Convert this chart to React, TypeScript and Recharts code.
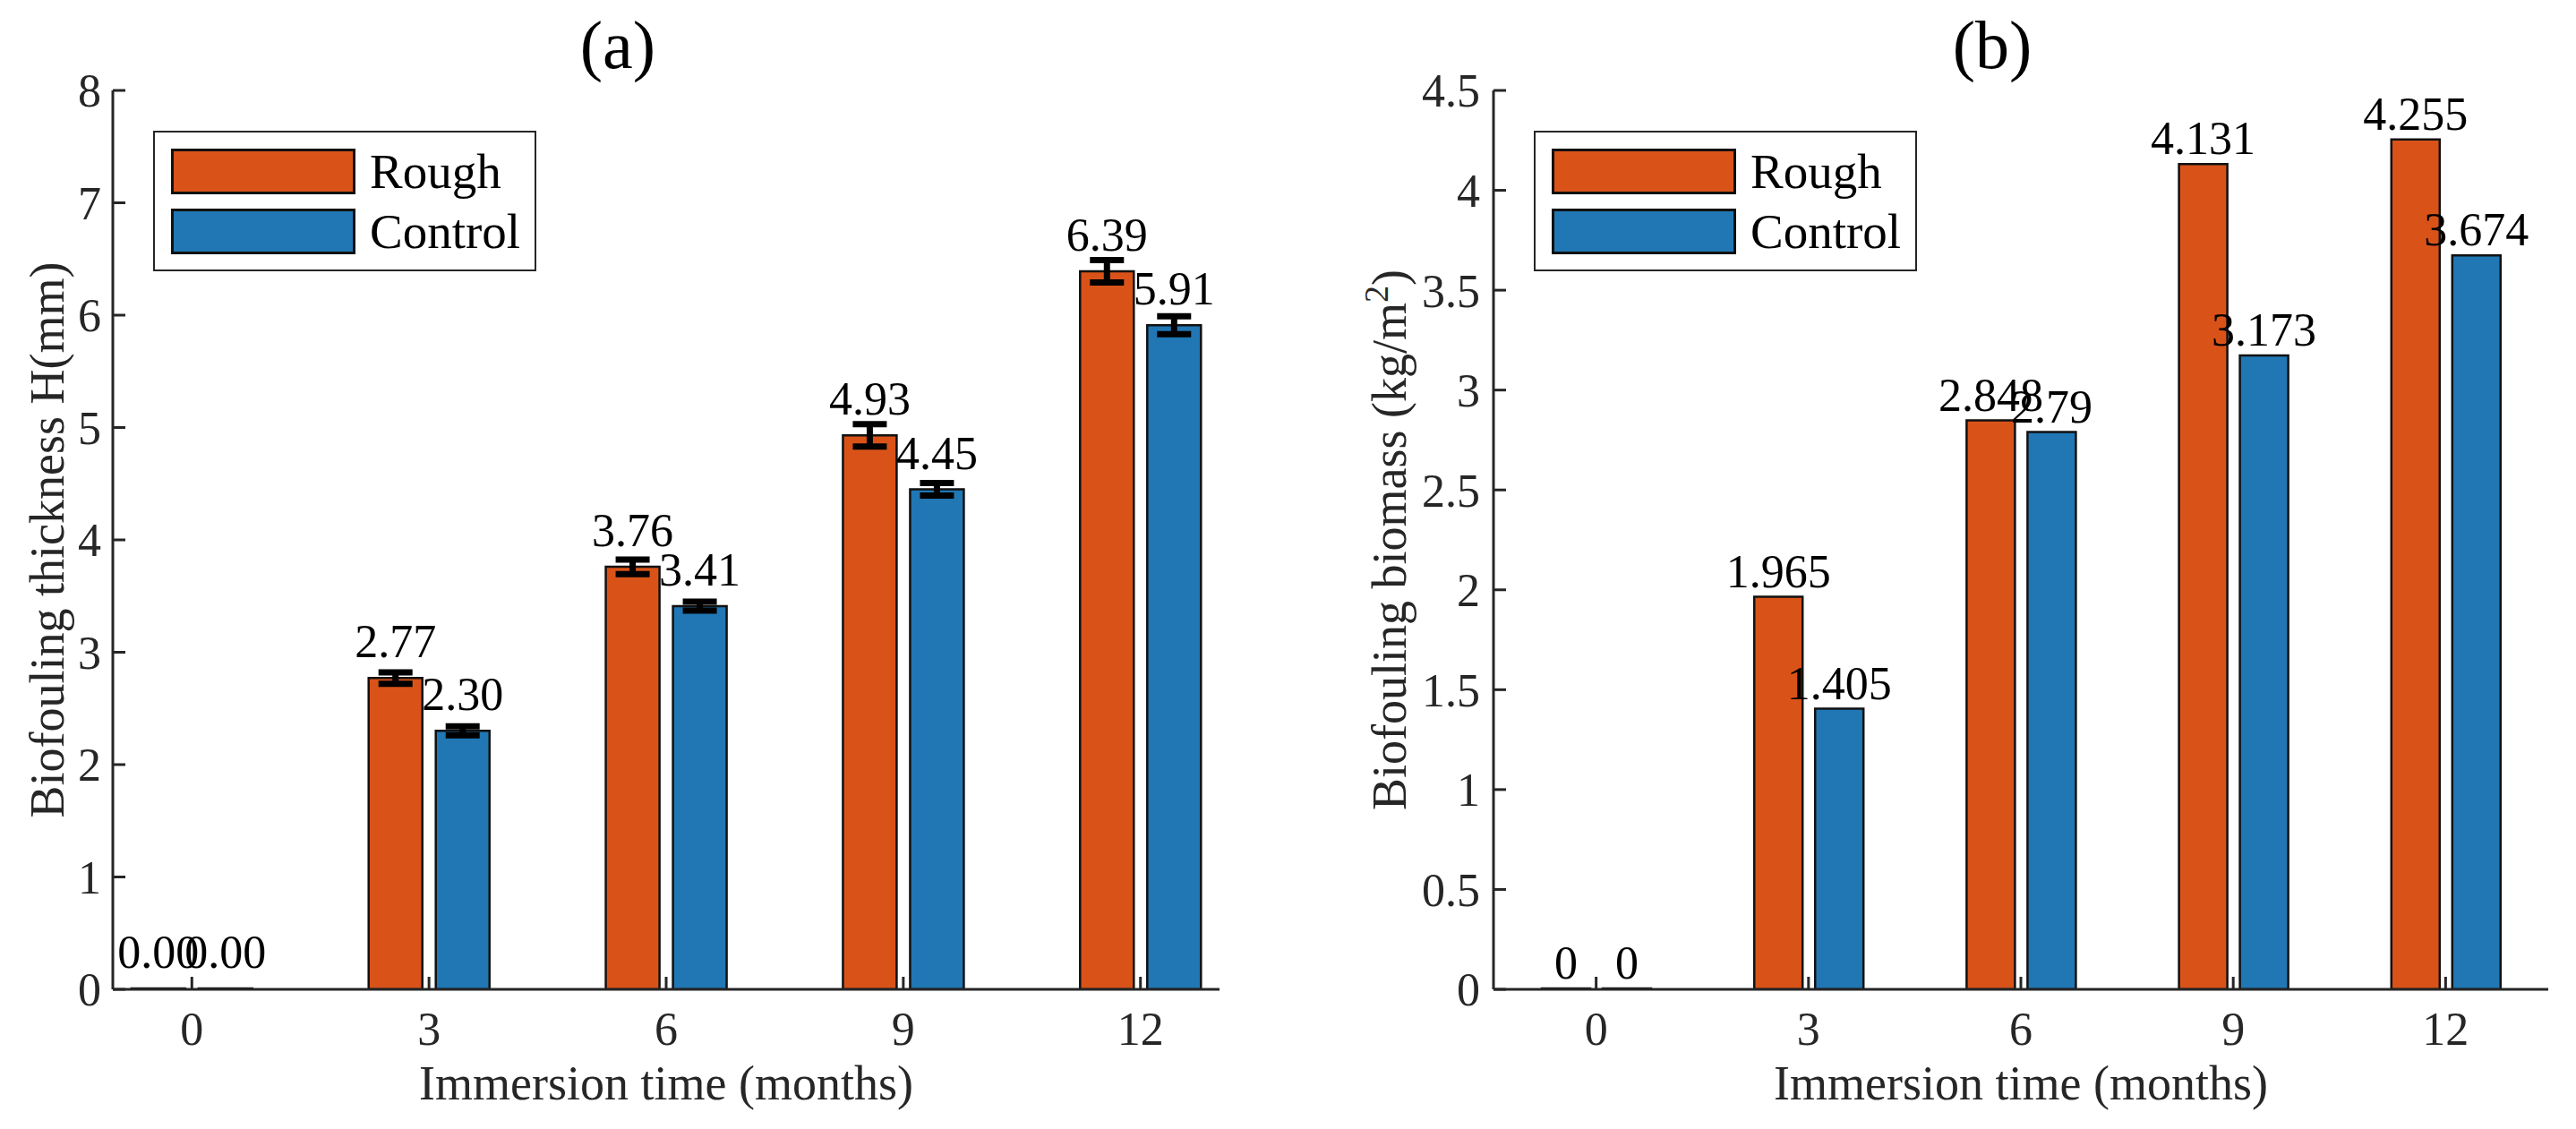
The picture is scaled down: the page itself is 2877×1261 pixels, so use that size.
import React from "react";
import {
  Bar,
  ComposedChart,
  Customized,
  ErrorBar,
  Label,
  LabelList,
  Legend,
  XAxis,
  YAxis,
} from "recharts";

const months = [0, 3, 6, 9, 12];
const seriesNames = ["Rough", "Control"];

// (a) biofouling thickness, mm
const thicknessRough = [0, 2.77, 3.76, 4.93, 6.39];
const thicknessControl = [0, 2.3, 3.41, 4.45, 5.91];
const thicknessRoughErr = [0, 0.05, 0.065, 0.1, 0.1];
const thicknessControlErr = [0, 0.04, 0.04, 0.055, 0.08];
const thicknessTicks = [0, 1, 2, 3, 4, 5, 6, 7, 8];

// (b) biofouling biomass, kg/m2
const biomassRough = [0, 1.965, 2.848, 4.131, 4.255];
const biomassControl = [0, 1.405, 2.79, 3.173, 3.674];
const biomassTicks = [0, 0.5, 1, 1.5, 2, 2.5, 3, 3.5, 4, 4.5];

const FONT = '"Liberation Serif", "Times New Roman", serif';
const ROUGH = "#D95319";
const CONTROL = "#2077B4";
const AXIS = "#262626";

const thicknessData = months.map((m, i) => ({
  month: m,
  rough: thicknessRough[i],
  control: thicknessControl[i],
  roughErr: thicknessRoughErr[i],
  controlErr: thicknessControlErr[i],
}));

const biomassData = months.map((m, i) => ({
  month: m,
  rough: biomassRough[i],
  control: biomassControl[i],
}));

function LegendBox(props: any) {
  const payload = [...(props.payload || [])].sort(
    (a: any, b: any) => seriesNames.indexOf(a.value) - seriesNames.indexOf(b.value)
  );
  return (
    <div
      style={{
        width: 428,
        height: 157,
        boxSizing: "border-box",
        border: `2.5px solid ${AXIS}`,
        background: "#fff",
        position: "relative",
        fontFamily: FONT,
      }}
    >
      {payload.map((p: any, i: number) => (
        <div key={p.value}>
          <div
            style={{
              position: "absolute",
              left: 18,
              top: 18 + i * 67,
              width: 206,
              height: 51,
              boxSizing: "border-box",
              border: "3px solid #111",
              background: p.color,
            }}
          />
          <div
            style={{
              position: "absolute",
              left: 240,
              top: 14 + i * 67,
              fontSize: 55,
              lineHeight: "60px",
              color: "#000",
              whiteSpace: "nowrap",
            }}
          >
            {p.value}
          </div>
        </div>
      ))}
    </div>
  );
}

interface PanelProps {
  width: number;
  data: any[];
  title: string;
  titleX: number;
  xDomain: number[];
  yDomain: number[];
  yTicks: number[];
  yAxisWidth: number;
  marginRight: number;
  yTickMargin: number;
  yTitle: React.ReactNode;
  yTitleX: number;
  barSize: number;
  barGap: number;
  labelOffset: number;
  labelFormat: (v: any) => string;
  withErrors: boolean;
  legendLeft: number;
}

function Panel(p: PanelProps) {
  const tickStyle = { fill: AXIS, fontSize: 52, fontFamily: FONT };
  const valueLabelStyle = { fill: "#000", fontSize: 52, fontFamily: FONT };
  return (
    <ComposedChart
      width={p.width}
      height={1261}
      data={p.data}
      margin={{ top: 101, right: p.marginRight, bottom: 0, left: 0 }}
      barGap={p.barGap}
    >
      <XAxis
        dataKey="month"
        type="number"
        domain={p.xDomain}
        ticks={months}
        interval={0}
        allowDataOverflow
        height={156}
        tick={tickStyle}
        tickSize={-14}
        tickMargin={39}
        axisLine={{ stroke: AXIS, strokeWidth: 3 }}
        tickLine={{ stroke: AXIS, strokeWidth: 3 }}
      >
        <Label
          value="Immersion time (months)"
          position="insideBottom"
          offset={33}
          fill={AXIS}
          fontSize={54}
          fontFamily={FONT}
        />
      </XAxis>
      <XAxis
        xAxisId="top"
        orientation="top"
        type="number"
        domain={p.xDomain}
        ticks={months}
        interval={0}
        allowDataOverflow
        height={0}
        tick={false}
        tickSize={-14}
        axisLine={{ stroke: AXIS, strokeWidth: 3 }}
        tickLine={{ stroke: AXIS, strokeWidth: 3 }}
      />
      <YAxis
        type="number"
        domain={p.yDomain}
        ticks={p.yTicks}
        interval={0}
        allowDataOverflow
        width={p.yAxisWidth}
        tick={tickStyle}
        tickSize={-14}
        tickMargin={p.yTickMargin}
        axisLine={{ stroke: AXIS, strokeWidth: 3 }}
        tickLine={{ stroke: AXIS, strokeWidth: 3 }}
      >
        <Label
          content={(lp: any) => {
            const vb = lp.viewBox || { x: 0, y: 101, width: p.yAxisWidth, height: 1004 };
            const cy = vb.y + vb.height / 2;
            return (
              <text
                x={p.yTitleX}
                y={cy}
                transform={`rotate(-90 ${p.yTitleX} ${cy})`}
                textAnchor="middle"
                fill={AXIS}
                fontSize={54}
                fontFamily={FONT}
              >
                {p.yTitle}
              </text>
            );
          }}
        />
      </YAxis>
      <YAxis
        yAxisId="right"
        orientation="right"
        type="number"
        domain={p.yDomain}
        ticks={p.yTicks}
        interval={0}
        allowDataOverflow
        width={0}
        tick={false}
        tickSize={-14}
        axisLine={{ stroke: "#555", strokeWidth: 2.5 }}
        tickLine={{ stroke: AXIS, strokeWidth: 3 }}
      />
      <Legend
        layout="vertical"
        align="center"
        verticalAlign="middle"
        wrapperStyle={{ left: p.legendLeft, top: 146, width: 428, height: 157 }}
        content={LegendBox}
      />
      <Bar
        dataKey="rough"
        name="Rough"
        fill={ROUGH}
        stroke="#111"
        strokeWidth={2.5}
        barSize={p.barSize}
        minPointSize={1}
        isAnimationActive={false}
      >
        {p.withErrors && (
          <ErrorBar dataKey="roughErr" width={19} stroke="#000" strokeWidth={7} isAnimationActive={false} />
        )}
        <LabelList
          dataKey="rough"
          position="top"
          offset={p.labelOffset}
          formatter={p.labelFormat}
          style={valueLabelStyle}
        />
      </Bar>
      <Bar
        dataKey="control"
        name="Control"
        fill={CONTROL}
        stroke="#111"
        strokeWidth={2.5}
        barSize={p.barSize}
        minPointSize={1}
        isAnimationActive={false}
      >
        {p.withErrors && (
          <ErrorBar dataKey="controlErr" width={19} stroke="#000" strokeWidth={7} isAnimationActive={false} />
        )}
        <LabelList
          dataKey="control"
          position="top"
          offset={p.labelOffset}
          formatter={p.labelFormat}
          style={valueLabelStyle}
        />
      </Bar>
      <Customized
        component={() => (
          <text x={p.titleX} y={76} textAnchor="middle" fill="#000" fontSize={76} fontFamily={FONT}>
            {p.title}
          </text>
        )}
      />
    </ComposedChart>
  );
}

export default function App() {
  return (
    <div
      style={{
        position: "absolute",
        left: 0,
        top: 0,
        width: 2877,
        height: 1261,
        background: "#fff",
        display: "flex",
        fontFamily: FONT,
      }}
    >
      <Panel
        width={1440}
        data={thicknessData}
        title="(a)"
        titleX={690}
        xDomain={[-1, 13]}
        yDomain={[0, 8]}
        yTicks={thicknessTicks}
        yAxisWidth={126}
        marginRight={78}
        yTickMargin={27}
        yTitle="Biofouling thickness H(mm)"
        yTitleX={71}
        barSize={60}
        barGap={15}
        labelOffset={23}
        labelFormat={(v: any) => Number(v).toFixed(2)}
        withErrors
        legendLeft={171}
      />
      <Panel
        width={1437}
        data={biomassData}
        title="(b)"
        titleX={785}
        xDomain={[-1.45, 13.45]}
        yDomain={[0, 4.5]}
        yTicks={biomassTicks}
        yAxisWidth={228}
        marginRight={31}
        yTickMargin={29}
        yTitle={
          <>
            Biofouling biomass (kg/m
            <tspan dy={-20} fontSize={38}>
              2
            </tspan>
            <tspan dy={20}>)</tspan>
          </>
        }
        yTitleX={130}
        barSize={54}
        barGap={14}
        labelOffset={11}
        labelFormat={(v: any) => String(v)}
        withErrors={false}
        legendLeft={273}
      />
    </div>
  );
}
